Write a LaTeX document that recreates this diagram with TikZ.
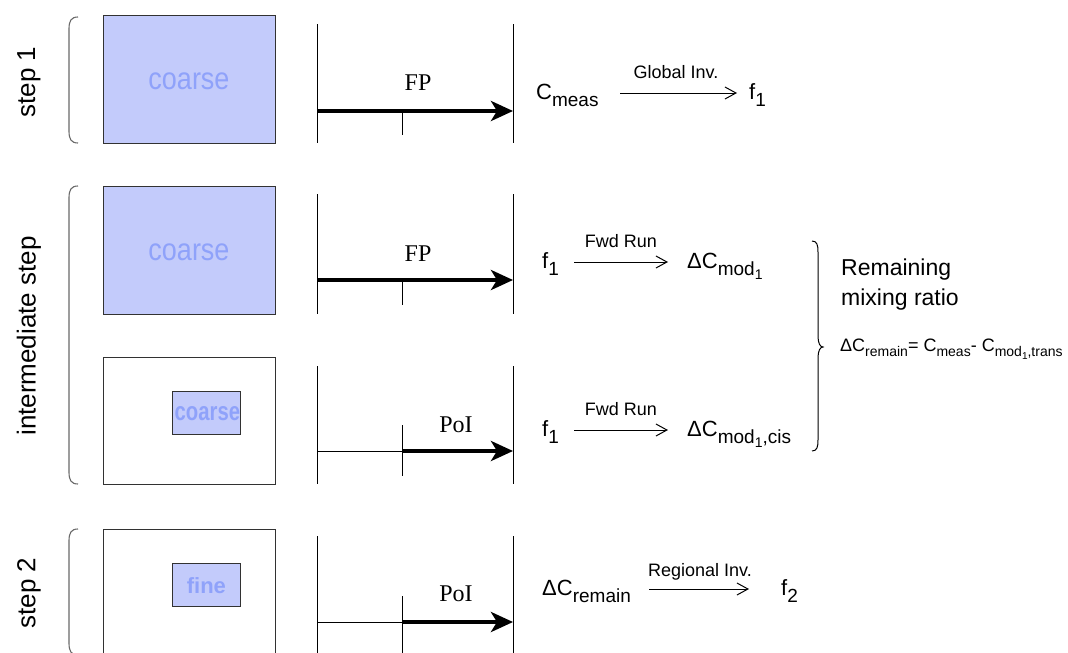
\documentclass[tikz,border=0pt]{standalone}
\usepackage{fontspec}
\setmainfont{Liberation Sans}
\newfontfamily\serifff{Liberation Serif}
\usetikzlibrary{arrows.meta}
\definecolor{boxfill}{RGB}{195,203,251}
\definecolor{boxtext}{RGB}{143,162,250}
\definecolor{brkgray}{RGB}{105,105,105}
\definecolor{edgegray}{RGB}{50,50,50}
\newcommand\fs[1]{\fontsize{#1pt}{#1pt}\selectfont}
\newcommand\lo[3]{\raisebox{-#1pt}{\fs{#2}#3}}
\tikzset{
  x=1pt, y=-1pt,
  gridbox/.style={draw=edgegray, line width=1.3pt},
  bluebox/.style={gridbox, fill=boxfill},
  tline/.style={draw=black, line width=1pt},
  thick arrow/.style={line width=4.5pt, -{Stealth[length=22pt,width=20pt,inset=6pt]}},
  thin arrow/.style={line width=1pt, -{Straight Barb[length=11pt,width=12pt,line width=1pt]}},
  brk/.style={draw=brkgray, line width=1.1pt},
  steplabel/.style={rotate=90, font=\fs{26}, inner sep=0pt},
  gridtext/.style={font=\fs{27}, text=boxtext, inner sep=0pt, anchor=base},
  smalltext/.style={font=\bfseries\fs{22}, text=boxtext, inner sep=0pt},
  proc/.style={font=\serifff\fs{24}, inner sep=0pt, anchor=base},
  quant/.style={font=\fs{22}, inner sep=0pt, anchor=base west},
  arrlabel/.style={font=\fs{18}, inner sep=0pt, anchor=base},
}
\begin{document}
\begin{tikzpicture}
\useasboundingbox[fill=white] (0,0) rectangle (1068,653);

% ---------- left brackets ----------
\draw[brk] (78,17) .. controls (71,17) and (69,21) .. (69,29) -- (69,131) .. controls (69,139) and (71,143) .. (78,143);
\draw[brk] (78,186) .. controls (71,186) and (69,190) .. (69,198) -- (69,472) .. controls (69,480) and (71,484) .. (78,484);
\draw[brk] (78,529) .. controls (71,529) and (69,533) .. (69,541) -- (69,643) .. controls (69,651) and (71,655) .. (78,655);

\node[steplabel] (lab1) at (29,82) {step 1};
\node[steplabel] (labi) at (29,336) {intermediate step};
\node[steplabel] (lab2) at (29,593) {step 2};

% ---------- grid boxes ----------
\node[bluebox, minimum width=172pt, minimum height=128pt, anchor=north west, inner sep=0pt] (box1) at (103,15) {};
\node[gridtext] (t1) at (189,89) {\scalebox{1}[1.15]{coarse}};

\node[bluebox, minimum width=172pt, minimum height=128pt, anchor=north west, inner sep=0pt] (box2) at (103,186) {};
\node[gridtext] (t2) at (189,260) {\scalebox{1}[1.15]{coarse}};

\node[gridbox, minimum width=172pt, minimum height=127pt, anchor=north west, inner sep=0pt] (box3) at (103,357) {};
\node[bluebox, minimum width=68.5pt, minimum height=43pt, anchor=north west, inner sep=0pt] (in3) at (171.5,391) {};
\node[smalltext] (t3) at ([xshift=1pt]in3.center) {\scalebox{0.78}[1]{\fs{26}coarse}};

\node[gridbox, minimum width=172pt, minimum height=128pt, anchor=north west, inner sep=0pt] (box4) at (103,529) {};
\node[bluebox, minimum width=68.5pt, minimum height=43pt, anchor=north west, inner sep=0pt] (in4) at (171.5,563) {};
\node[smalltext] (t4) at (in4.center) {fine};

% ---------- timelines ----------
% step 1
\coordinate (a1) at (317,24);  \coordinate (a1b) at (317,143);
\coordinate (b1) at (513,24);  \coordinate (b1b) at (513,143);
\coordinate (m1) at (402,113); \coordinate (m1b) at (402,135);
\coordinate (s1) at (317,111); \coordinate (e1) at (513,111);
\draw[tline] (a1) -- (a1b);
\draw[tline] (b1) -- (b1b);
\draw[tline] (m1) -- (m1b);
\draw[thick arrow] (s1) -- (e1);
\node[proc] (fp1) at (418,90) {FP};

% intermediate upper
\coordinate (a2) at (317,194);  \coordinate (a2b) at (317,314);
\coordinate (b2) at (513,194);  \coordinate (b2b) at (513,314);
\coordinate (m2) at (402,282);  \coordinate (m2b) at (402,305);
\coordinate (s2) at (317,280);  \coordinate (e2) at (513,280);
\draw[tline] (a2) -- (a2b);
\draw[tline] (b2) -- (b2b);
\draw[tline] (m2) -- (m2b);
\draw[thick arrow] (s2) -- (e2);
\node[proc] (fp2) at (418,261) {FP};

% intermediate lower
\coordinate (a3) at (317,366);  \coordinate (a3b) at (317,484);
\coordinate (b3) at (513,366);  \coordinate (b3b) at (513,484);
\coordinate (m3) at (402,425);  \coordinate (m3b) at (402,476);
\coordinate (s3) at (317,451);  \coordinate (c3) at (402,451); \coordinate (e3) at (513,451);
\draw[tline] (a3) -- (a3b);
\draw[tline] (b3) -- (b3b);
\draw[tline] (m3) -- (m3b);
\draw[tline] (s3) -- (c3);
\draw[thick arrow] (c3) -- (e3);
\node[proc] (poi1) at (456,432) {PoI};

% step 2
\coordinate (a4) at (317,536);  \coordinate (a4b) at (317,660);
\coordinate (b4) at (513,536);  \coordinate (b4b) at (513,660);
\coordinate (m4) at (402,596);  \coordinate (m4b) at (402,660);
\coordinate (s4) at (317,622);  \coordinate (c4) at (402,622); \coordinate (e4) at (513,622);
\draw[tline] (a4) -- (a4b);
\draw[tline] (b4) -- (b4b);
\draw[tline] (m4) -- (m4b);
\draw[tline] (s4) -- (c4);
\draw[thick arrow] (c4) -- (e4);
\node[proc] (poi2) at (456,601) {PoI};

% ---------- right-hand relations ----------
% step 1
\node[quant] (cmeas) at (536,99) {C\lo{7}{19}{meas}};
\node[quant] (f1a) at (749,99) {f\lo{7}{19}{1}};
\coordinate (g1) at (620,93); \coordinate (g2) at (737,93);
\draw[thin arrow] (g1) -- (g2);
\node[arrlabel] (glob) at (676,78) {Global Inv.};

% intermediate upper
\node[quant] (f1b) at (542,268) {f\lo{7}{19}{1}};
\node[quant] (dcm) at (687,268) {ΔC\lo{7}{19}{mod\lo{4}{14}{1}}};
\coordinate (r1) at (574,262); \coordinate (r2) at (668,262);
\draw[thin arrow] (r1) -- (r2);
\node[arrlabel] (fwd1) at (621,247) {Fwd Run};

% intermediate lower
\node[quant] (f1c) at (542,436) {f\lo{7}{19}{1}};
\node[quant] (dcc) at (687,436) {ΔC\lo{7}{19}{mod\lo{4}{14}{1},cis}};
\coordinate (r3) at (574,430); \coordinate (r4) at (668,430);
\draw[thin arrow] (r3) -- (r4);
\node[arrlabel] (fwd2) at (621,415) {Fwd Run};

% brace and remaining mixing ratio
\draw[line width=1pt] (812,241) .. controls (817,241) and (818,245) .. (818,252) -- (818,336)
  .. controls (818,343) and (820,347) .. (823,347)
  .. controls (820,347) and (818,351) .. (818,358) -- (818,440)
  .. controls (818,447) and (817,451) .. (812,451);
\node[quant, font=\fs{23}] (rem1) at (841,275) {Remaining};
\node[quant, font=\fs{23}] (rem2) at (841,305) {mixing ratio};
\node[inner sep=0pt, anchor=base west, font=\fs{18}] (formula) at (840,351)
  {ΔC\lo{5}{14}{remain}= C\lo{5}{14}{meas}- C\lo{5}{14}{mod\lo{3}{10}{1},trans}};

% step 2
\node[quant] (dcr) at (542,595) {ΔC\lo{7}{19}{remain}};
\node[quant] (f2) at (781,595) {f\lo{7}{19}{2}};
\coordinate (q1) at (649,589); \coordinate (q2) at (749,589);
\draw[thin arrow] (q1) -- (q2);
\node[arrlabel] (reg) at (700,576) {Regional Inv.};
\end{tikzpicture}
\end{document}
